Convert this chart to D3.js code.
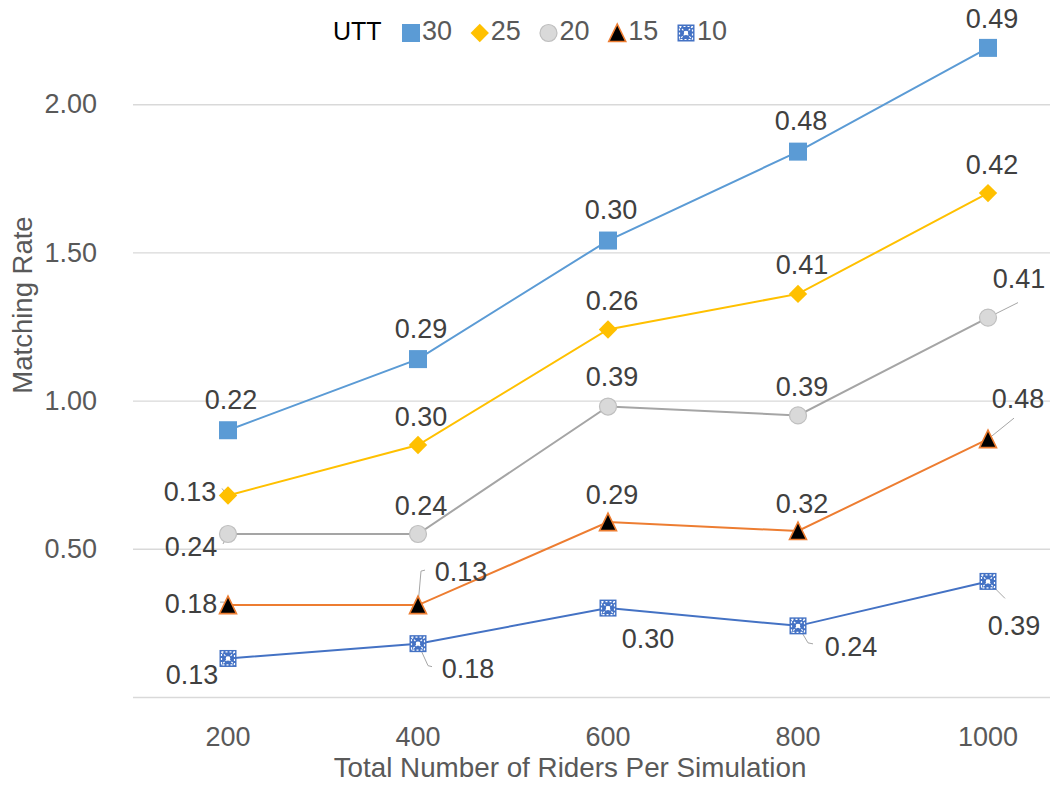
<!DOCTYPE html>
<html>
<head>
<meta charset="utf-8">
<script src="https://cdn.jsdelivr.net/npm/d3@7"></script>
<style>
  body { margin: 0; background: #fff; }
  text { font-family: "Liberation Sans", Arial, sans-serif; }
</style>
</head>
<body>
<svg id="chart" width="1050" height="786"></svg>
<script>
// Riders per simulation (x categories)
const riders = ["200", "400", "600", "800", "1000"];
// Matching rate contribution for each UTT level (stacked bottom → top)
const utt10 = [0.13, 0.18, 0.30, 0.24, 0.39];
const utt15 = [0.18, 0.13, 0.29, 0.32, 0.48];
const utt20 = [0.24, 0.24, 0.39, 0.39, 0.41];
const utt25 = [0.13, 0.30, 0.26, 0.41, 0.42];
const utt30 = [0.22, 0.29, 0.30, 0.48, 0.49];
const stackKeys = ["10", "15", "20", "25", "30"];
const legendKeys = ["30", "25", "20", "15", "10"];
const yTickValues = [0.5, 1.0, 1.5, 2.0];
const gridValues = [0, 0.5, 1.0, 1.5, 2.0];

const seriesValues = { "10": utt10, "15": utt15, "20": utt20, "25": utt25, "30": utt30 };
const table = riders.map((r, i) => {
  const row = { riders: r };
  stackKeys.forEach(k => row[k] = seriesValues[k][i]);
  return row;
});
const stacked = d3.stack().keys(stackKeys)(table);

// Line colour per series
const style = {
  "30": { line: "#5B9BD5" },
  "25": { line: "#FFC000" },
  "20": { line: "#A5A5A5" },
  "15": { line: "#ED7D31" },
  "10": { line: "#4472C4" }
};

// Label offsets relative to each marker: [dx, dy, leader polyline]
const labelPlacement = {
  "30": [[3, -31], [3, -31], [3, -31], [3, -31], [4, -30]],
  "25": [[-38, -4, [[-3, -3], [-6, -7]]], [3, -29], [4, -29], [4, -30], [4, -29]],
  "20": [[-37, 12, [[-2, 4], [-5, 10]]], [3, -29], [4, -30], [4, -29], [31, -39, [[0, 0], [30, -15]]]],
  "15": [[-37, -2, [[-4, -3], [-8, -3]]], [43, -34, [[0, 0], [3, -34], [7, -35]]], [4, -28], [4, -28], [30, -41, [[0, 0], [26, -21]]]],
  "10": [[-36, 16], [50, 25, [[0, 0], [10, 22], [14, 23]]], [40, 30], [53, 20, [[0, 0], [10, 17], [15, 18]]], [26, 44, [[0, 0], [17, 17]]]]
};

const svg = d3.select("#chart");
const x = d3.scaleBand().domain(riders).range([133, 1083]);
const cx = d => x(d) + x.bandwidth() / 2;
const y = d3.scaleLinear().domain([0, 2.5]).range([697, -44]);

// Gridlines
svg.append("g")
  .attr("transform", "translate(133,0)")
  .call(d3.axisLeft(y).tickValues(gridValues).tickSize(-950).tickFormat(""))
  .call(g => g.select(".domain").remove())
  .call(g => g.selectAll("line").attr("stroke", "#D9D9D9").attr("stroke-width", 1.4));

// Y tick labels
svg.append("g")
  .attr("transform", "translate(133,0)")
  .call(d3.axisLeft(y).tickValues(yTickValues).tickSize(0).tickPadding(36).tickFormat(d3.format(".2f")))
  .call(g => g.select(".domain").remove())
  .call(g => g.selectAll("text").attr("fill", "#595959").style("font-size", "27px")
    .style("font-family", "'Liberation Sans', Arial, sans-serif"));

// X tick labels
svg.append("g")
  .attr("transform", "translate(0,697)")
  .call(d3.axisBottom(x).tickSize(0).tickPadding(30))
  .call(g => g.select(".domain").remove())
  .call(g => g.selectAll("text").attr("fill", "#595959").style("font-size", "27px")
    .style("font-family", "'Liberation Sans', Arial, sans-serif"));

// Axis titles
svg.append("text")
  .attr("x", 570).attr("y", 777)
  .attr("text-anchor", "middle")
  .attr("fill", "#595959").style("font-size", "27.8px")
  .text("Total Number of Riders Per Simulation");
svg.append("text")
  .attr("transform", "translate(32,305) rotate(-90)")
  .attr("text-anchor", "middle")
  .attr("fill", "#595959").style("font-size", "27.5px")
  .text("Matching Rate");

// Marker drawing
function drawMarker(g, key, s) {
  if (key === "30") {
    g.append("rect").attr("x", -9 * s).attr("y", -9 * s).attr("width", 18 * s).attr("height", 18 * s)
      .attr("fill", "#5B9BD5");
  } else if (key === "25") {
    g.append("rect").attr("x", -6.5 * s).attr("y", -6.5 * s).attr("width", 13 * s).attr("height", 13 * s)
      .attr("transform", "rotate(45)").attr("fill", "#FFC000");
  } else if (key === "20") {
    g.append("circle").attr("r", 8.5 * s).attr("fill", "#D9D9D9").attr("stroke", "#BFBFBF").attr("stroke-width", 1.2);
  } else if (key === "15") {
    g.append("path").attr("d", `M0,${-9 * s}L${8.5 * s},${8.5 * s}L${-8.5 * s},${8.5 * s}Z`)
      .attr("fill", "#000").attr("stroke", "#ED7D31").attr("stroke-width", 1.6);
  } else {
    const h = 8.5 * s;
    g.append("rect").attr("x", -h).attr("y", -h).attr("width", 2 * h).attr("height", 2 * h)
      .attr("fill", "#4472C4");
    const w = g.append("g").attr("stroke", "#fff").attr("stroke-width", 1.2).attr("fill", "none");
    w.append("rect").attr("x", -h + 2).attr("y", -h + 2).attr("width", 2 * h - 4).attr("height", 2 * h - 4)
      .attr("stroke-dasharray", "2,2");
    w.append("line").attr("x1", -h + 2).attr("y1", -h + 2).attr("x2", h - 2).attr("y2", h - 2).attr("stroke-dasharray", "2,1.5");
    w.append("line").attr("x1", h - 2).attr("y1", -h + 2).attr("x2", -h + 2).attr("y2", h - 2).attr("stroke-dasharray", "2,1.5");
    w.append("circle").attr("r", 2.2).attr("fill", "#fff").attr("stroke", "none");
  }
}

const lineGen = d3.line().x(d => cx(d.data.riders)).y(d => y(d[1]));

// Leader lines (beneath markers)
const leaderG = svg.append("g").attr("stroke", "#A6A6A6").attr("stroke-width", 1).attr("fill", "none");

// Series lines, top series drawn first
const order = ["30", "25", "20", "15", "10"];
const layers = {};
stacked.forEach(s => layers[s.key] = s);
order.forEach(k => {
  svg.append("path").datum(layers[k]).attr("d", lineGen)
    .attr("fill", "none").attr("stroke", style[k].line).attr("stroke-width", 2);
});

order.forEach(k => {
  layers[k].forEach((d, i) => {
    const px = cx(d.data.riders), py = y(d[1]);
    const p = labelPlacement[k][i];
    if (p[2]) {
      leaderG.append("polyline")
        .attr("points", p[2].map(q => [px + q[0], py + q[1]].join(",")).join(" "));
    }
  });
});

order.forEach(k => {
  layers[k].forEach(d => {
    const g = svg.append("g").attr("transform", `translate(${cx(d.data.riders)},${y(d[1])})`);
    drawMarker(g, k, 1);
  });
});

// Data labels: each layer's own value
order.forEach(k => {
  layers[k].forEach((d, i) => {
    const px = cx(d.data.riders), py = y(d[1]);
    const p = labelPlacement[k][i];
    svg.append("text")
      .attr("x", px + p[0]).attr("y", py + p[1]).attr("dy", "0.36em")
      .attr("text-anchor", "middle")
      .attr("fill", "#404040").style("font-size", "27px")
      .text(d3.format(".2f")(d[1] - d[0]));
  });
});

// Legend
const legend = svg.append("g");
legend.append("text").attr("x", 333).attr("y", 40).attr("fill", "#000").style("font-size", "25px").text("UTT");
const lx = d3.scalePoint().domain(legendKeys).range([411, 686]);
legendKeys.forEach(k => {
  const g = legend.append("g").attr("transform", `translate(${lx(k)},33)`);
  drawMarker(g, k, 1);
  legend.append("text").attr("x", lx(k) + 11).attr("y", 40)
    .attr("fill", "#595959").style("font-size", "27px").text(k);
});
</script>
</body>
</html>
